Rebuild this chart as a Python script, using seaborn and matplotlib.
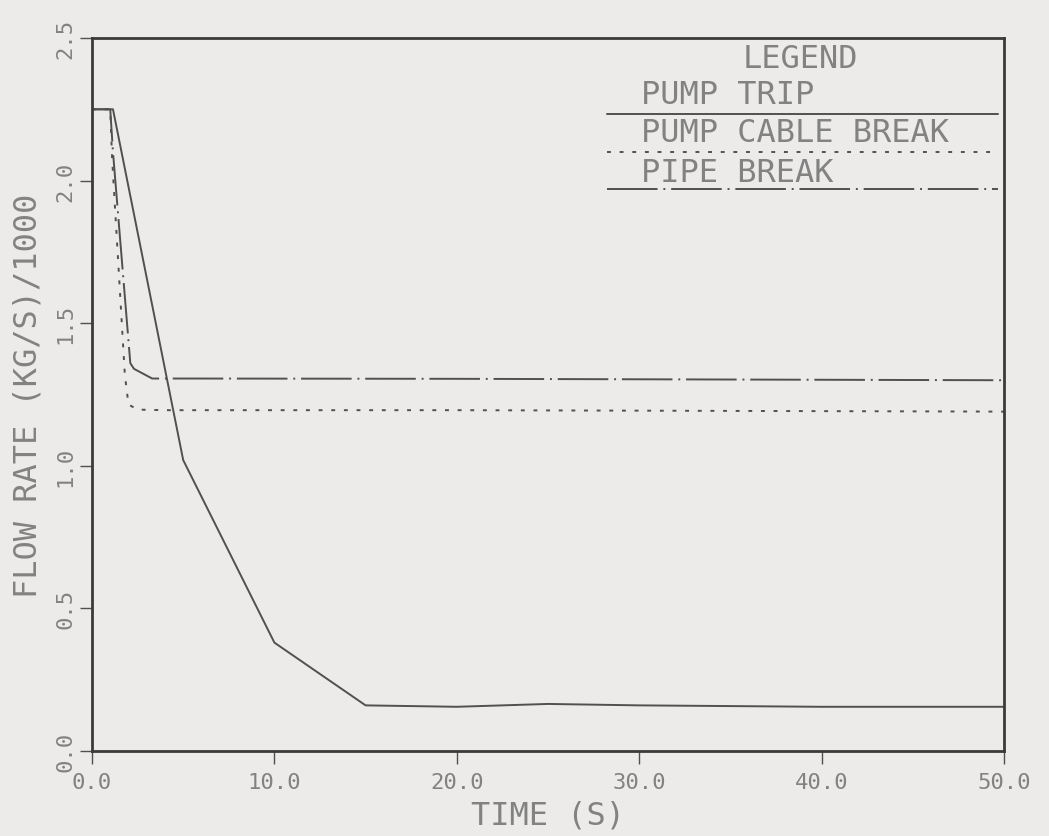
import matplotlib
matplotlib.use("Agg")
import matplotlib.pyplot as plt
import seaborn as sns
import pandas as pd

# ---- data ----
trip_t = [0.0, 1.15, 5.0, 10.0, 15.0, 20.0, 25.0, 30.0, 40.0, 50.0]
trip_q = [2.25, 2.25, 1.02, 0.38, 0.16, 0.155, 0.165, 0.16, 0.155, 0.155]

cable_t = [0.0, 1.0, 1.1, 1.8, 2.0, 2.5, 4.0, 20.0, 50.0]
cable_q = [2.25, 2.25, 2.08, 1.32, 1.215, 1.197, 1.195, 1.195, 1.19]

pipe_t = [0.0, 1.0, 1.15, 2.1, 2.3, 3.3, 5.0, 20.0, 50.0]
pipe_q = [2.25, 2.25, 2.10, 1.36, 1.34, 1.306, 1.306, 1.305, 1.30]

series_names = ["PUMP TRIP", "PUMP CABLE BREAK", "PIPE BREAK"]
x_ticks = [0, 10, 20, 30, 40, 50]
x_ticklabels = ["0.0", "10.0", "20.0", "30.0", "40.0", "50.0"]
y_ticks = [0.0, 0.5, 1.0, 1.5, 2.0, 2.5]
y_ticklabels = ["0.0", "0.5", "1.0", "1.5", "2.0", "2.5"]

sns.set_theme(style="white")
plt.rcParams["font.family"] = ["DejaVu Sans Mono"]

bg = "#ecebe9"
ink = "#505050"
txt = "#828282"

fig = plt.figure(figsize=(10.49, 8.37), dpi=100, facecolor=bg)
L, R, T, B = 92, 1004, 39, 752
W, H = 1049, 837
ax = fig.add_axes([L / W, (H - B) / H, (R - L) / W, (B - T) / H])
ax.set_facecolor(bg)

styles = ["-", (0, (2.0, 4.5)), (0, (26, 3, 1, 3))]
datas = [(trip_t, trip_q), (cable_t, cable_q), (pipe_t, pipe_q)]
for (t, q), ls, name in zip(datas, styles, series_names):
    df = pd.DataFrame({"t": t, "q": q})
    sns.lineplot(data=df, x="t", y="q", ax=ax, color=ink, lw=1.4,
                 linestyle=ls, sort=False, estimator=None)

ax.set_xlim(0, 50)
ax.set_ylim(0, 2.5)
ax.set_xticks(x_ticks)
ax.set_xticklabels(x_ticklabels, color=txt, fontsize=16)
ax.set_yticks(y_ticks)
ax.set_yticklabels(y_ticklabels, color=txt, fontsize=16, rotation=90, va="center")
ax.tick_params(axis="x", direction="out", length=9, width=1.0, color=ink, pad=6)
ax.tick_params(axis="y", direction="out", length=9, width=1.0, color=ink, pad=3)
ax.tick_params(bottom=True, left=True)
for s in ax.spines.values():
    s.set_color("#3a3a3a")
    s.set_linewidth(2.0)

aw, ah = R - L, B - T
ax.set_xlabel("TIME (S)", color=txt, fontsize=23, va="center")
ax.xaxis.set_label_coords(0.5, -(816 - B) / ah)
ax.set_ylabel("FLOW RATE (KG/S)/1000", color=txt, fontsize=23, va="center")
ax.yaxis.set_label_coords(-(L - 28) / aw, (B - 396) / ah)

# legend drawn as in the reference (title, then text above each sample line)
tr = ax.transAxes
def fx(px):
    return (px - L) / aw
def fy(py):
    return (B - py) / ah

ax.text(fx(800), fy(60), "LEGEND", transform=tr, color=txt, fontsize=23,
        ha="center", va="center")
text_y = [96, 134, 173]
line_y = [115, 153, 190]
for name, ls, yt, yl in zip(series_names, styles, text_y, line_y):
    ax.text(fx(641), fy(yt), name, transform=tr, color=txt, fontsize=23,
            ha="left", va="center")
    ax.plot([fx(607), fx(998)], [fy(yl), fy(yl)], transform=tr, color=ink,
            lw=1.4, linestyle=ls)

fig.savefig("out.png", dpi=100, facecolor=bg)
